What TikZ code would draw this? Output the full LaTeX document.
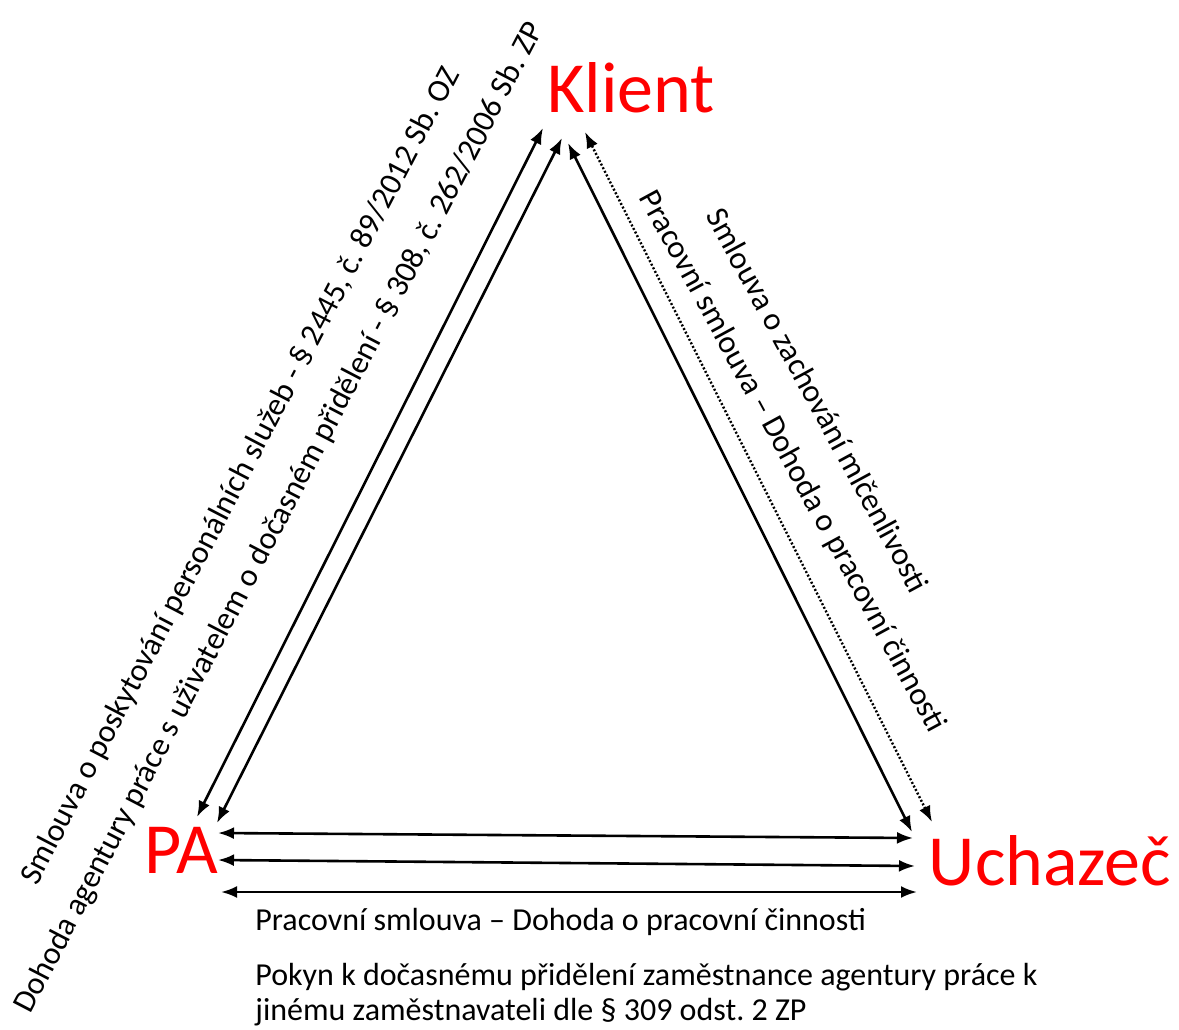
\documentclass[tikz,border=0pt]{standalone}
\usepackage{fontspec}
\setmainfont{Carlito}
\usepackage{tikz}
\usetikzlibrary{arrows.meta}
\definecolor{PartyRed}{HTML}{FF0000}
\frenchspacing

\begin{document}
\begin{tikzpicture}[x=0.5pt,y=-0.5pt,
  party/.style={text=PartyRed,font=\fontsize{36}{40}\selectfont,inner sep=0pt,anchor=base},
  rel/.style={font=\fontsize{16}{17.5}\selectfont,inner sep=0pt,align=left},
  link/.style={{Latex[length=8pt,width=6pt]}-{Latex[length=8pt,width=6pt]},line width=1.3pt},
  hint/.style={link,line width=1.2pt,dash pattern=on 1pt off 1pt}
]
\useasboundingbox (0,0) rectangle (1179,1029);

\node[party] (klient) at (631,112) {Klient};
\node[party] (pa) at (181,873) {PA};
\node[party] (uchazec) at (1050,885) {Uchazeč};

\coordinate (kl1) at (543,128); \coordinate (pa1) at (197,817);
\coordinate (kl2) at (562,138); \coordinate (pa2) at (217,823);
\coordinate (kl3) at (568,143); \coordinate (uc3) at (912,832);
\coordinate (kl4) at (585,132); \coordinate (uc4) at (932,822);
\coordinate (pa5) at (218,833); \coordinate (uc5) at (913,838);
\coordinate (pa6) at (218,860); \coordinate (uc6) at (915,866);
\coordinate (pa7) at (221,892); \coordinate (uc7) at (917,892);

\draw[link] (pa1) -- (kl1);
\draw[link] (pa2) -- (kl2);
\draw[link] (uc3) -- (kl3);
\draw[hint] (uc4) -- (kl4);
\draw[link] (pa5) -- (uc5);
\draw[link] (pa6) -- (uc6);
\draw[link] (pa7) -- (uc7);

\node[rel,rotate=62.5] (poskyt) at (241,476) {Smlouva o poskytování personálních služeb - § 2445, č. 89/2012 Sb. OZ};
\node[rel,rotate=62.5] (dohoda) at (280,518) {Dohoda agentury práce s uživatelem o dočasném přidělení - § 308, č. 262/2006 Sb. ZP};
\node[rel,rotate=-61.5] (mlcen) at (818,400) {Smlouva o zachování mlčenlivosti};
\node[rel,rotate=-61.5] (pracK) at (792,462) {Pracovní smlouva – Dohoda o pracovní činnosti};

\node[rel,anchor=west] (pracU) at (255,922) {Pracovní smlouva – Dohoda o pracovní činnosti};
\node[rel,anchor=west] (pokyn) at (255,995) {Pokyn k dočasnému přidělení zaměstnance agentury práce k\\jinému zaměstnavateli dle § 309 odst. 2 ZP};
\end{tikzpicture}
\end{document}
